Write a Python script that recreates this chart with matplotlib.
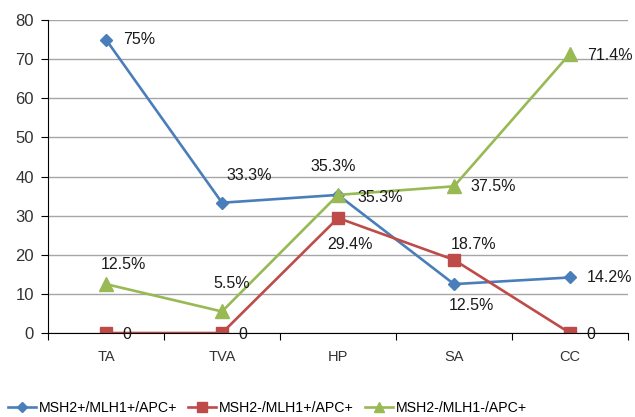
import matplotlib.pyplot as plt
import numpy as np

plt.rcParams['font.family'] = ['Liberation Sans', 'DejaVu Sans']

categories = ['TA', 'TVA', 'HP', 'SA', 'CC']
msh_pos = [75, 33.3, 35.3, 12.5, 14.2]
msh_neg_mlh_pos = [0, 0, 29.4, 18.7, 0]
msh_neg_mlh_neg = [12.5, 5.5, 35.3, 37.5, 71.4]

lab_blue = ['75%', '33.3%', '35.3%', '12.5%', '14.2%']
lab_red = ['0', '0', '29.4%', '18.7%', '0']
lab_green = ['12.5%', '5.5%', '35.3%', '37.5%', '71.4%']

# label offsets in points (dx, dy, ha, va)
off_blue = [(12, 0, 'left', 'center'), (3, 14, 'left', 'bottom'),
            (-20, 15, 'left', 'bottom'), (-4, -10, 'left', 'top'),
            (12, 0, 'left', 'center')]
off_red = [(12, -1, 'left', 'center'), (12, -1, 'left', 'center'),
           (-8, -14, 'left', 'top'), (-2, 6, 'left', 'bottom'),
           (12, -1, 'left', 'center')]
off_green = [(-4, 9, 'left', 'bottom'), (-6, 15, 'left', 'bottom'),
             (14, -2, 'left', 'center'), (12, 0, 'left', 'center'),
             (12, -1, 'left', 'center')]

blue = '#4A7EBB'
red = '#BE4B48'
green = '#98B954'

fig = plt.figure(figsize=(6.35, 4.17), dpi=100)
ax = fig.add_axes([0.0756, 0.2014, 0.9134, 0.7506])

x = np.arange(len(categories))
ax.plot(x, msh_pos, color=blue, lw=1.9, marker='D', ms=6.5, label='MSH2+/MLH1+/APC+')
ax.plot(x, msh_neg_mlh_pos, color=red, lw=1.9, marker='s', ms=8.5, label='MSH2-/MLH1+/APC+')
ax.plot(x, msh_neg_mlh_neg, color=green, lw=1.9, marker='^', ms=9.5, label='MSH2-/MLH1-/APC+')

for vals, labs, offs in [(msh_pos, lab_blue, off_blue),
                         (msh_neg_mlh_pos, lab_red, off_red),
                         (msh_neg_mlh_neg, lab_green, off_green)]:
    for i, (v, t, o) in enumerate(zip(vals, labs, offs)):
        ax.annotate(t, (i, v), xytext=(o[0], o[1]), textcoords='offset points',
                    ha=o[2], va=o[3], fontsize=11.5, color='#1a1a1a')

ax.set_xlim(-0.5, 4.5)
ax.set_ylim(0, 80)
ax.set_yticks(range(0, 81, 10))
ax.set_xticks(np.arange(-0.5, 4.6, 1))
ax.set_xticklabels([])
ax.set_xticks(x, minor=True)
ax.set_xticklabels(categories, minor=True)
ax.tick_params(axis='x', which='minor', length=0, pad=12, labelsize=10.5, labelcolor='#333333')
ax.tick_params(axis='x', which='major', length=5, direction='out', color='black')
ax.tick_params(axis='y', length=5, labelsize=12, labelcolor='#333333', pad=5)
ax.grid(axis='y', color='#A6A6A6', lw=1)
ax.set_axisbelow(True)
for s in ['top', 'right']:
    ax.spines[s].set_visible(False)
ax.spines['left'].set_color('black')
ax.spines['bottom'].set_color('black')

fig.legend(loc='center left', bbox_to_anchor=(0.0126, 1 - 408 / 417), ncol=3, frameon=False,
           fontsize=10.2, handlelength=1.95, columnspacing=0.8, handletextpad=0.2,
           borderaxespad=0, borderpad=0, markerscale=0.8)

fig.savefig('out.png', dpi=100)
